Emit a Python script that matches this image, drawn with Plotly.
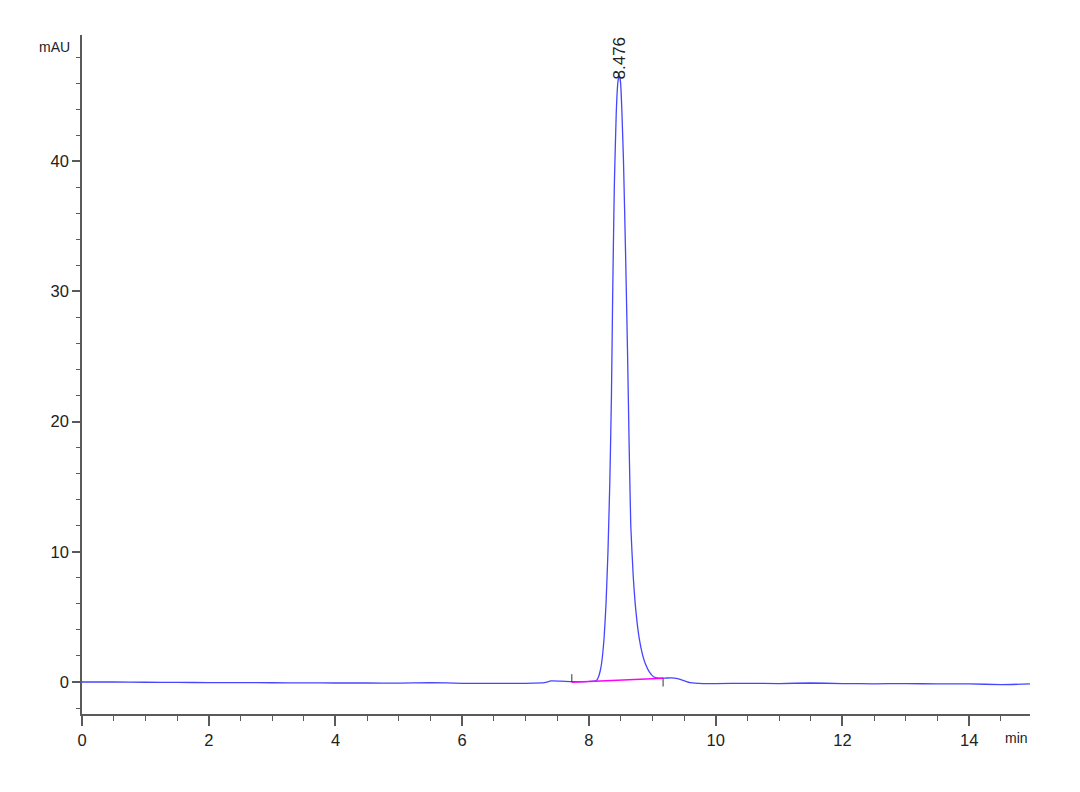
import plotly.graph_objects as go

# chromatogram signal (min, mAU)
time_min = [0.0, 0.5, 1.0, 1.5, 2.0, 2.5, 3.0, 3.5, 4.0, 4.5, 5.0, 5.5, 6.0, 6.5, 7.0,
            7.3, 7.4, 7.55, 7.7, 7.85, 8.0, 8.08, 8.12, 8.15, 8.18, 8.20, 8.24, 8.27,
            8.30, 8.33, 8.355, 8.375, 8.40, 8.43, 8.455, 8.476, 8.50, 8.52, 8.545, 8.58,
            8.61, 8.635, 8.66, 8.70, 8.73, 8.79, 8.85, 8.89, 8.95, 9.02, 9.1, 9.2, 9.3,
            9.4, 9.5, 9.6, 9.8, 10.0, 10.5, 11.0, 11.5, 12.0, 12.5, 13.0, 13.5, 14.0,
            14.5, 14.96]
signal_mau = [0.0, 0.0, -0.02, -0.03, -0.05, -0.05, -0.06, -0.07, -0.08, -0.08, -0.09, -0.05,
              -0.1, -0.1, -0.1, -0.05, 0.08, 0.06, 0.03, 0.03, 0.04, 0.06, 0.12, 0.38, 0.9,
              1.46, 3.45, 6.07, 10.0, 15.5, 22.0, 30.0, 38.0, 43.6, 46.0, 46.7, 46.0, 43.8,
              40.0, 32.4, 25.0, 18.0, 12.0, 8.0, 6.0, 3.45, 2.0, 1.4, 0.8, 0.4, 0.3, 0.3,
              0.32, 0.25, 0.1, -0.05, -0.12, -0.12, -0.1, -0.12, -0.08, -0.12, -0.14,
              -0.12, -0.15, -0.15, -0.2, -0.15]

# integration baseline and peak label
base_t = [7.73, 9.17]
base_y = [-0.02, 0.28]
start_tick_y = [-0.02, 0.6]
end_tick_y = [0.28, -0.35]
peak_rt = 8.476
peak_height = 46.7

font_family = "Liberation Sans, Arial"
axis_col = "#5a5a5a"

fig = go.Figure()
fig.add_trace(go.Scatter(x=time_min, y=signal_mau, mode="lines",
                         line=dict(color="rgb(70,70,255)", width=1.3, shape="spline",
                                   smoothing=0.4)))
fig.add_trace(go.Scatter(x=base_t, y=base_y, mode="lines",
                         line=dict(color="#ff00ff", width=1.5)))
fig.add_trace(go.Scatter(x=[base_t[0], base_t[0]], y=start_tick_y, mode="lines",
                         line=dict(color="#333333", width=1)))
fig.add_trace(go.Scatter(x=[base_t[1], base_t[1]], y=end_tick_y, mode="lines",
                         line=dict(color="#333333", width=1)))

fig.add_annotation(x=peak_rt, y=peak_height - 0.6, text=f"{peak_rt:.3f}", textangle=-90,
                   showarrow=False, yanchor="bottom", xanchor="center",
                   font=dict(family=font_family, size=17, color="#222222"))
fig.add_annotation(x=0, y=1, xref="paper", yref="paper", text="mAU", showarrow=False,
                   xanchor="right", yanchor="top", xshift=-10, yshift=-2,
                   font=dict(family=font_family, size=14, color="#222222"))
fig.add_annotation(x=1, y=0, xref="paper", yref="paper", text="min", showarrow=False,
                   xanchor="right", yanchor="top", yshift=-14,
                   font=dict(family=font_family, size=14, color="#222222"))

fig.update_layout(
    width=1072, height=784,
    margin=dict(l=74, r=50, t=27, b=78),
    plot_bgcolor="white", paper_bgcolor="white",
    showlegend=False,
    font=dict(family=font_family, size=16.5, color="#222222"),
)
fig.update_xaxes(range=[0, 14.96], tick0=0, dtick=2, ticks="outside", ticklen=10,
                 tickwidth=1.5, tickcolor=axis_col, showline=True, linecolor=axis_col,
                 linewidth=1.5, showgrid=False, zeroline=False,
                 minor=dict(dtick=0.5, ticks="outside", ticklen=5, tickwidth=1.2,
                            tickcolor=axis_col, showgrid=False))
fig.update_yaxes(range=[-2.46, 49.7], tick0=0, dtick=10, ticks="outside", ticklen=8,
                 tickwidth=1.5, tickcolor=axis_col, showline=True, linecolor=axis_col,
                 linewidth=1.5, showgrid=False, zeroline=False,
                 minor=dict(dtick=2, ticks="outside", ticklen=4, tickwidth=1.2,
                            tickcolor=axis_col, showgrid=False))

fig.write_html("out.html")
